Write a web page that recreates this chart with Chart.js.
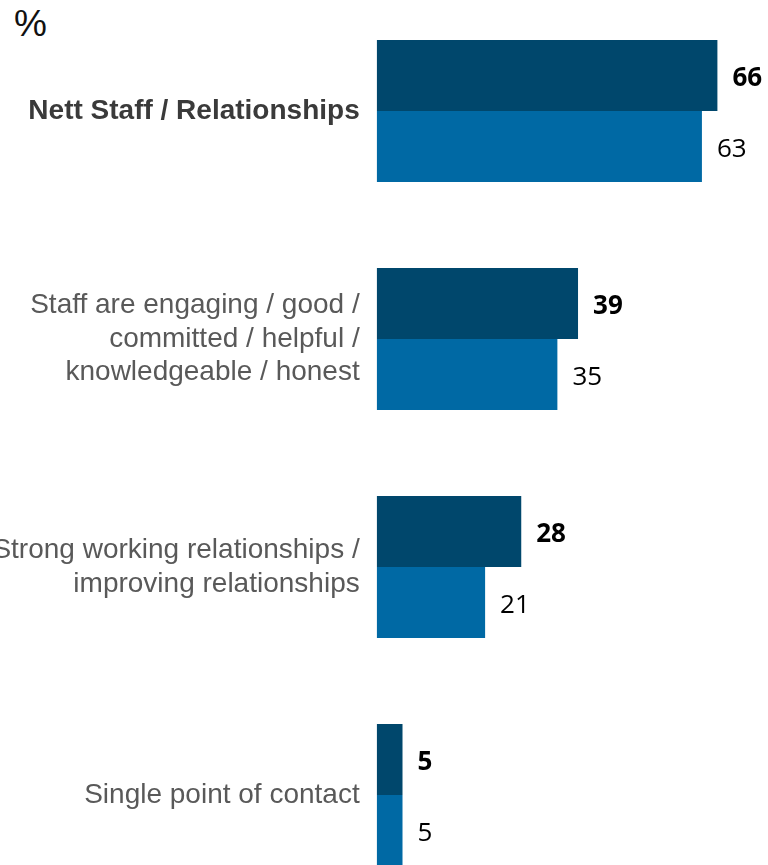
<!DOCTYPE html>
<html>
<head>
<meta charset="utf-8">
<script src="https://cdn.jsdelivr.net/npm/chart.js@4/dist/chart.umd.min.js"></script>
<style>
  body { margin: 0; background: #fff; overflow: hidden; width: 768px; height: 865px; position: relative; }
  #unit { position: absolute; left: 14px; top: 3px; font: 37px "Liberation Sans", Arial, sans-serif; color: #111; }
  #wrap { position: absolute; left: 0; top: -3px; width: 768px; height: 912px; }
</style>
</head>
<body>
<div id="unit">%</div>
<div id="wrap"><canvas id="chart"></canvas></div>
<script>
const categories = [
  ["Nett Staff / Relationships"],
  ["Staff are engaging / good /", "committed / helpful /", "knowledgeable / honest"],
  ["Strong working relationships /", "improving relationships"],
  ["Single point of contact"]
];
const firstSeries = [66, 39, 28, 5];
const secondSeries = [63, 35, 21, 5];

// writes each bar's value just past its end; the first series in bold
const valueLabels = {
  id: 'valueLabels',
  afterDatasetsDraw(chart) {
    const ctx = chart.ctx;
    chart.data.datasets.forEach((ds, i) => {
      const meta = chart.getDatasetMeta(i);
      ctx.save();
      ctx.font = (i === 0 ? 'bold ' : '') + '26px "Open Sans", sans-serif';
      ctx.fillStyle = '#000';
      ctx.textAlign = 'left';
      ctx.textBaseline = 'middle';
      meta.data.forEach((bar, j) => {
        ctx.fillText(ds.data[j], bar.x + 15, bar.y + 3);
      });
      ctx.restore();
    });
  }
};

new Chart(document.getElementById('chart'), {
  type: 'bar',
  data: {
    labels: categories,
    datasets: [
      { data: firstSeries, backgroundColor: '#00476C' },
      { data: secondSeries, backgroundColor: '#0069A4' }
    ]
  },
  options: {
    indexAxis: 'y',
    responsive: true,
    maintainAspectRatio: false,
    animation: false,
    layout: { padding: 0 },
    datasets: { bar: { categoryPercentage: 0.623, barPercentage: 1, borderWidth: 0 } },
    plugins: { legend: { display: false }, tooltip: { enabled: false } },
    scales: {
      x: { display: false, min: 0, max: 75.8 },
      y: {
        grid: { display: false, drawTicks: false },
        border: { display: false },
        afterFit(scale) {
          // fixed label column, no extra room above/below the bands
          scale.width = 376.7;
          scale.paddingTop = 0;
          scale.paddingBottom = 0;
        },
        ticks: {
          autoSkip: false,
          padding: 17,
          color: ctx => ctx.index === 0 ? '#3a3a3a' : '#595959',
          font: ctx => ({
            family: '"Liberation Sans", Arial, sans-serif',
            size: 28,
            lineHeight: 1.2,
            weight: ctx.index === 0 ? 'bold' : 'normal'
          })
        }
      }
    }
  },
  plugins: [valueLabels]
});
</script>
</body>
</html>
